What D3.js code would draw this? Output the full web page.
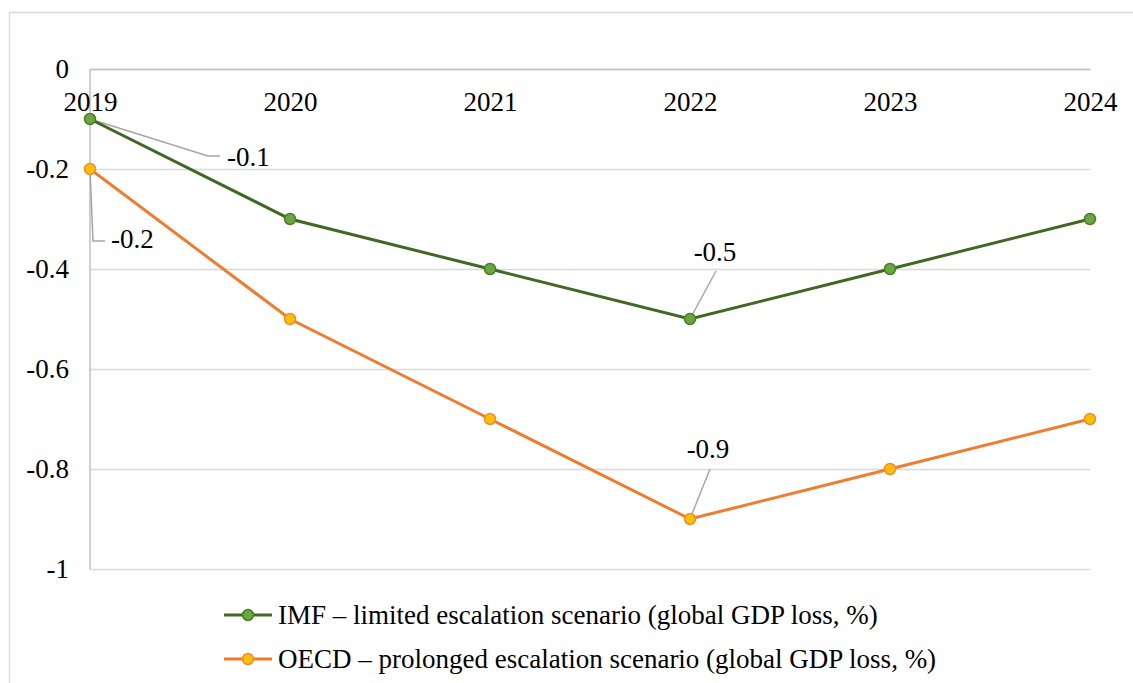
<!DOCTYPE html>
<html>
<head>
<meta charset="utf-8">
<script src="https://cdn.jsdelivr.net/npm/d3@7"></script>
<style>
  html, body { margin: 0; padding: 0; background: #fff; }
  svg { display: block; }
</style>
</head>
<body>
<svg id="chart" width="1133" height="683"></svg>
<script>
// Chart data
const years = ["2019", "2020", "2021", "2022", "2023", "2024"];
const imfValues = [-0.1, -0.3, -0.4, -0.5, -0.4, -0.3];
const oecdValues = [-0.2, -0.5, -0.7, -0.9, -0.8, -0.7];
const yTicks = [0, -0.2, -0.4, -0.6, -0.8, -1];
const seriesNames = [
  "IMF – limited escalation scenario (global GDP loss, %)",
  "OECD – prolonged escalation scenario (global GDP loss, %)"
];
// Points that carry a value label: [series index, year index]
const labelledPoints = [[0, 0], [1, 0], [0, 3], [1, 3]];

const FONT = `"Liberation Serif", "Times New Roman", serif`;
const FS = 27;
const fmt = v => String(v).replace("\u2212", "-");

const W = 1133, H = 683;
const margin = { left: 90, right: 43, top: 69, bottom: 114 };
const svg = d3.select("#chart");

// chart frame (only top and left edges fall inside the view)
svg.append("path")
  .attr("d", `M9.5,${H}V12.5H${W}`)
  .attr("fill", "none")
  .attr("stroke", "#d9d9d9")
  .attr("stroke-width", 1.3);

const x = d3.scalePoint().domain(years).range([margin.left, W - margin.right]).padding(0);
const y = d3.scaleLinear().domain([-1, 0]).range([H - margin.bottom, margin.top]);

// horizontal gridlines
const grid = svg.append("g")
  .attr("transform", `translate(${margin.left},0)`)
  .call(d3.axisLeft(y).tickValues(yTicks).tickSize(-(W - margin.left - margin.right)).tickFormat(""));
grid.select(".domain").remove();
grid.selectAll("line").attr("stroke", "#d9d9d9").attr("stroke-width", 1.3);

// y axis labels
const yAxis = svg.append("g")
  .attr("transform", `translate(${margin.left},0)`)
  .call(d3.axisLeft(y).tickValues(yTicks).tickSize(0).tickPadding(21).tickFormat(fmt));
yAxis.attr("font-family", null).attr("font-size", null);
yAxis.select(".domain").remove();
yAxis.selectAll("text").attr("fill", "#000").style("font-family", FONT).style("font-size", FS + "px");

// vertical axis line
svg.append("line")
  .attr("x1", margin.left).attr("x2", margin.left)
  .attr("y1", y(0)).attr("y2", y(-1))
  .attr("stroke", "#bfbfbf").attr("stroke-width", 1.5);

// category axis along zero line, labels below it
const xAxis = svg.append("g")
  .attr("transform", `translate(0,${y(0)})`)
  .call(d3.axisBottom(x).tickSize(0).tickPadding(33));
xAxis.attr("font-family", null).attr("font-size", null);
xAxis.select(".domain").attr("stroke", "#bfbfbf").attr("stroke-width", 1.5);
xAxis.selectAll("text").attr("fill", "#000").attr("dy", "0.35em")
  .style("font-family", FONT).style("font-size", FS + "px");

const series = [
  { values: imfValues, line: "#3f6922", fill: "#6aa83f", stroke: "#4a7d2b" },
  { values: oecdValues, line: "#ed7d31", fill: "#ffc000", stroke: "#f08a36" }
];

const lineGen = d3.line().x((d, i) => x(years[i])).y(d => y(d));

// value label leader lines and text offsets from their point
const labelStyle = {
  "0,0": { path: (px, py) => `M${px},${py}L${px + 118},${py + 37}H${px + 130}`, tx: 137, ty: 38, anchor: "start" },
  "1,0": { path: (px, py) => `M${px},${py}L${px + 3},${py + 72}H${px + 15}`, tx: 21, ty: 70, anchor: "start" },
  "0,3": { path: (px, py) => `M${px},${py}L${px + 26},${py - 48}`, tx: 25, ty: -67, anchor: "middle" },
  "1,3": { path: (px, py) => `M${px},${py}L${px + 20},${py - 50}`, tx: 18, ty: -70, anchor: "middle" }
};

labelledPoints.forEach(([s, i]) => {
  const px = x(years[i]), py = y(series[s].values[i]);
  svg.append("path")
    .attr("d", labelStyle[`${s},${i}`].path(px, py))
    .attr("fill", "none")
    .attr("stroke", "#a6a6a6")
    .attr("stroke-width", 1.5);
});

series.forEach(s => {
  svg.append("path")
    .datum(s.values)
    .attr("d", lineGen)
    .attr("fill", "none")
    .attr("stroke", s.line)
    .attr("stroke-width", 3);
  svg.append("g").selectAll("circle")
    .data(s.values)
    .join("circle")
    .attr("cx", (d, i) => x(years[i]))
    .attr("cy", d => y(d))
    .attr("r", 5.5)
    .attr("fill", s.fill)
    .attr("stroke", s.stroke)
    .attr("stroke-width", 1.5);
});

labelledPoints.forEach(([s, i]) => {
  const v = series[s].values[i];
  const px = x(years[i]), py = y(v);
  const st = labelStyle[`${s},${i}`];
  svg.append("text")
    .attr("x", px + st.tx)
    .attr("y", py + st.ty)
    .attr("dy", "0.35em")
    .attr("text-anchor", st.anchor)
    .style("font-family", FONT)
    .style("font-size", FS + "px")
    .text(fmt(v));
});

// legend
const legend = svg.append("g");
series.forEach((s, k) => {
  const ly = 615 + k * 44;
  legend.append("line")
    .attr("x1", 224).attr("x2", 272)
    .attr("y1", ly).attr("y2", ly)
    .attr("stroke", s.line).attr("stroke-width", 3);
  legend.append("circle")
    .attr("cx", 248).attr("cy", ly).attr("r", 5.5)
    .attr("fill", s.fill).attr("stroke", s.stroke).attr("stroke-width", 1.5);
  legend.append("text")
    .attr("x", 278).attr("y", ly)
    .attr("dy", "0.35em")
    .style("font-family", FONT)
    .style("font-size", FS + "px")
    .text(seriesNames[k]);
});
</script>
</body>
</html>
